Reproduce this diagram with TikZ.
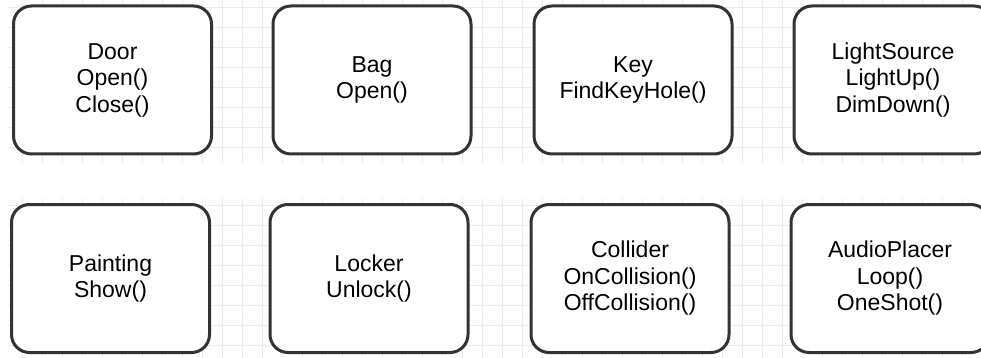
\documentclass[tikz,border=0pt]{standalone}
\usepackage{fontspec}
\setmainfont{Liberation Sans}
\definecolor{gridc}{RGB}{234,234,255}
\definecolor{boxc}{RGB}{51,51,51}
\begin{document}
\begin{tikzpicture}[x=1pt,y=-1pt,
  cls/.style={draw=boxc, line width=3pt, rounded corners=18pt, fill=white,
    minimum width=198pt, minimum height=148pt, align=center, inner sep=0pt,
    font=\fontsize{23}{26.5}\selectfont},
  gridline/.style={draw=gridc, line width=1pt}]
\useasboundingbox (0,0) rectangle (981,358);
\clip (0,0) rectangle (981,358);
\fill[white] (0,0) rectangle (981,358);
% grid, upper band
\foreach \x in {22,42,...,982} \draw[gridline] (\x,0) -- (\x,163);
\foreach \y in {8,28,...,148} \draw[gridline] (7,\y) -- (981,\y);
% grid, lower band
\foreach \x in {22,42,...,982} \draw[gridline] (\x,198) -- (\x,358);
\foreach \y in {205,225,...,345} \draw[gridline] (7,\y) -- (981,\y);
% classes, top row
\node[cls] (door)  at (112.5,80) {Door\\Open()\\Close()};
\node[cls] (bag)   at (372,80)   {Bag\\Open()};
\node[cls] (key)   at (633,80)   {Key\\FindKeyHole()};
\node[cls] (light) at (893,80)   {LightSource\\LightUp()\\DimDown()};
% classes, bottom row
\node[cls] (painting) at (110.5,278.5) {Painting\\Show()};
\node[cls] (locker)   at (369,278.5)   {Locker\\Unlock()};
\node[cls] (collider) at (630,278.5)   {Collider\\OnCollision()\\OffCollision()};
\node[cls] (audio)    at (890,278.5)   {AudioPlacer\\Loop()\\OneShot()};
\end{tikzpicture}
\end{document}
